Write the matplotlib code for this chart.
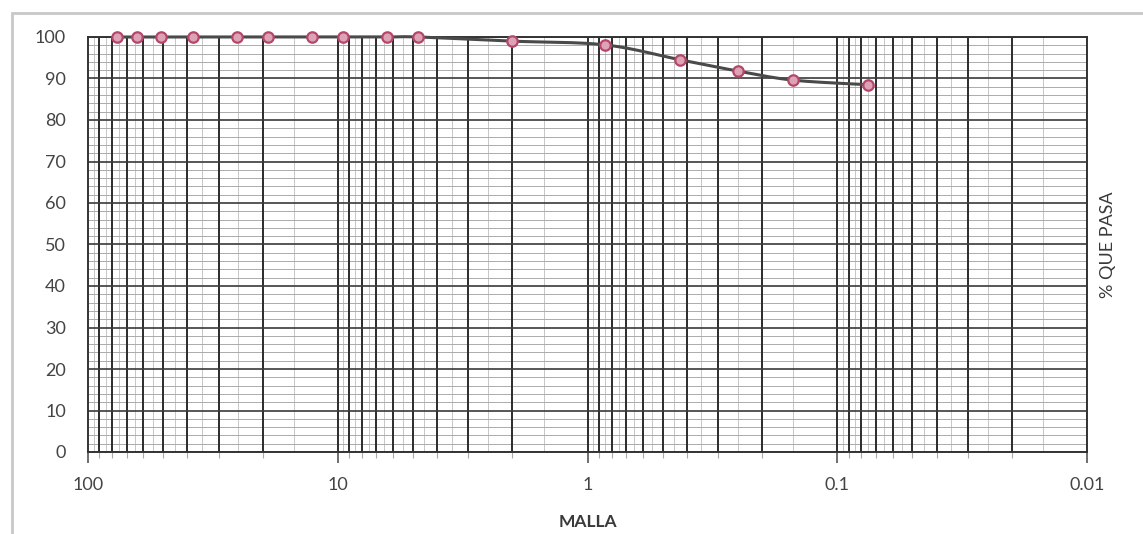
import numpy as np
import matplotlib
matplotlib.use("Agg")
import matplotlib.pyplot as plt
from matplotlib.patches import Rectangle

# Sieve openings (mm) and cumulative percent passing
sieve_mm = [76.2, 63.5, 50.8, 38.1, 25.4, 19.05, 12.7, 9.525, 6.35, 4.76,
            2.0, 0.85, 0.425, 0.25, 0.15, 0.075]
percent_passing = [100, 100, 100, 100, 100, 100, 100, 100, 100, 100,
                   99.0, 98.1, 94.5, 91.8, 89.6, 88.5]

x_tick_values = [100, 10, 1, 0.1, 0.01]
x_tick_labels = ["100", "10", "1", "0.1", "0.01"]
y_tick_values = list(range(0, 101, 10))

plt.rcParams["font.family"] = ["Lato", "DejaVu Sans"]

fig = plt.figure(figsize=(11.43, 5.34), dpi=100)
ax = fig.add_axes([88 / 1143, 1 - 452 / 534, 999 / 1143, 415 / 534])

ax.set_xscale("log")
ax.set_xlim(100, 0.01)
ax.set_ylim(0, 100)

# Grid: heavy lines at 1..9 of each decade, light lines at the half steps
decades = [0.01, 0.1, 1, 10]
for d in decades:
    for k in range(1, 10):
        ax.axvline(k * d, color="#2b2b2b", lw=1.4, zorder=1)
        ax.axvline((k + 0.5) * d, color="#bdbdbd", lw=0.6, zorder=0.5)
for yv in range(0, 101, 2):
    if yv % 10 == 0:
        ax.axhline(yv, color="#3a3a3a", lw=1.2, zorder=1)
    else:
        ax.axhline(yv, color="#ababab", lw=0.7, zorder=0.5)

# Smoothed curve (cubic Bezier through the points, in log-x space)
lx = np.log10(sieve_mm)
yy = np.array(percent_passing, dtype=float)
pts = np.column_stack([lx, yy])
curve = []
n = len(pts)
for i in range(n - 1):
    p0 = pts[max(i - 1, 0)]
    p1 = pts[i]
    p2 = pts[i + 1]
    p3 = pts[min(i + 2, n - 1)]
    c1 = p1 + (p2 - p0) / 6.0
    c2 = p2 - (p3 - p1) / 6.0
    t = np.linspace(0, 1, 30)[:, None]
    seg = ((1 - t) ** 3) * p1 + 3 * ((1 - t) ** 2) * t * c1 + 3 * (1 - t) * t ** 2 * c2 + t ** 3 * p2
    curve.append(seg)
curve = np.vstack(curve)
ax.plot(10 ** curve[:, 0], curve[:, 1], color="#4a4a4a", lw=2.2, zorder=3,
        clip_on=False)
ax.plot(sieve_mm, percent_passing, linestyle="none", marker="o", ms=7.5,
        mfc="#dba3b3", mec="#b5476a", mew=1.6, zorder=4, clip_on=False)

for s in ax.spines.values():
    s.set_color("#333333")
    s.set_linewidth(1.4)

ax.set_xticks(x_tick_values)
ax.set_xticklabels(x_tick_labels)
ax.tick_params(axis="x", which="major", length=8, width=1.2, color="#555555",
               direction="out", labelsize=13, labelcolor="#444444", pad=10)
ax.tick_params(axis="x", which="minor", length=4, width=0.8, color="#aaaaaa",
               direction="out")
ax.set_yticks(y_tick_values)
ax.tick_params(axis="y", length=0, labelsize=13, labelcolor="#444444", pad=16)

ax.set_xlabel("MALLA", fontsize=12.5, fontweight="bold", color="#3a3a3a",
              labelpad=15)
ax.yaxis.set_label_position("right")
ax.set_ylabel("% QUE PASA", fontsize=13, color="#3a3a3a", labelpad=9)

# Chart-area border
fig.patches.append(Rectangle((12 / 1143, -0.1), 1.2, 1 - 13 / 534 + 0.1,
                             transform=fig.transFigure, fill=False,
                             edgecolor="#c8c8c8", lw=2.0))

fig.savefig("out.png", dpi=100)
